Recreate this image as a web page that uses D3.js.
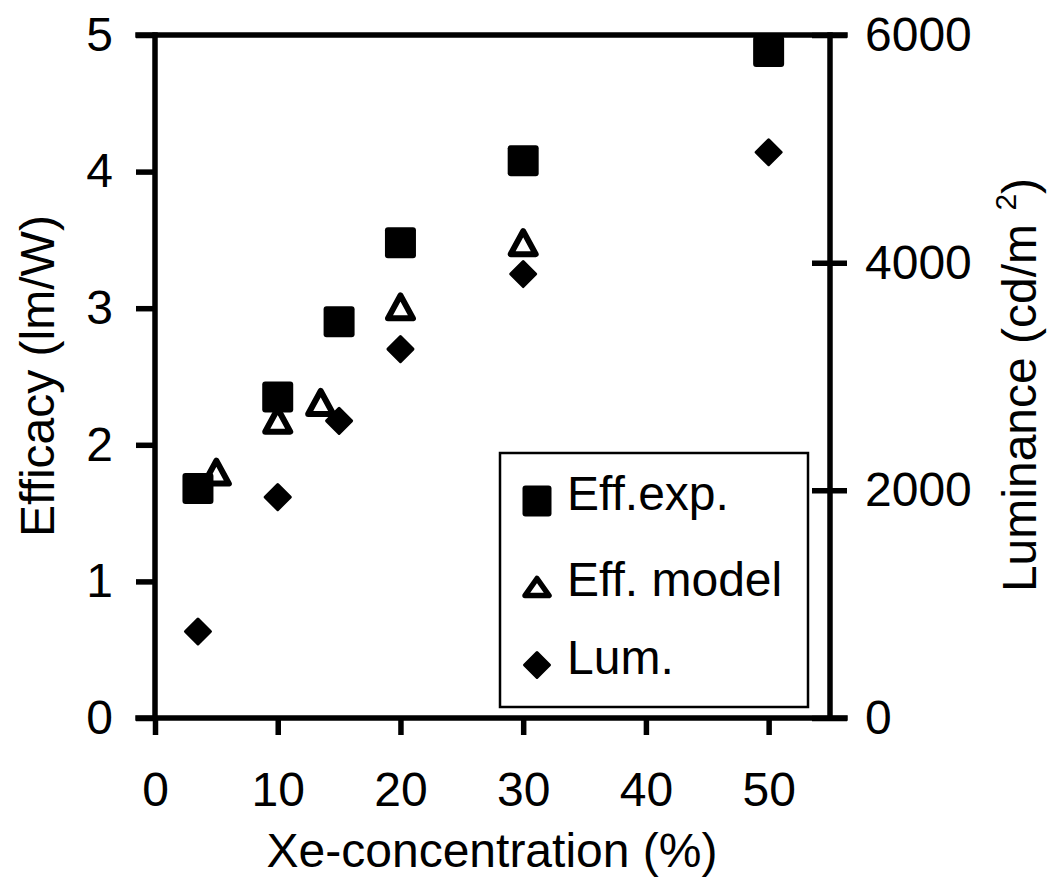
<!DOCTYPE html>
<html>
<head>
<meta charset="utf-8">
<script src="https://cdn.jsdelivr.net/npm/d3@7"></script>
<style>
body { margin: 0; background: #fff; }
svg text { font-family: "Liberation Sans", Arial, sans-serif; fill: #000; }
</style>
</head>
<body>
<div id="chart"></div>
<script>
"use strict";

// Xe concentration (%) and values
var expConc   = [3.5, 10, 15, 20, 30, 50];
var expEff    = [1.68, 2.35, 2.90, 3.48, 4.08, 4.88];   // lm/W
var modelConc = [5, 10, 13.5, 20, 30];
var modelEff  = [1.80, 2.18, 2.31, 3.01, 3.48];         // lm/W
var lumConc   = [3.5, 10, 15, 20, 30, 50];
var lumVal    = [760, 1940, 2610, 3240, 3900, 4970];    // cd/m2

var xTicks   = [0, 10, 20, 30, 40, 50];
var effTicks = [0, 1, 2, 3, 4, 5];
var lumTicks = [0, 2000, 4000, 6000];
var legendLabels = ["Eff.exp.", "Eff. model", "Lum."];

var width = 1049, height = 881;
var fontSize = 48;
var axisWidth = 5.5;
var fontFamily = "Liberation Sans, Arial, sans-serif";

var svg = d3.select("#chart")
    .append("svg")
    .attr("width", width)
    .attr("height", height);

var xScale = d3.scaleLinear().domain([0, 55]).range([155, 830]);
var yEff   = d3.scaleLinear().domain([0, 5]).range([718, 35]);
var yLum   = d3.scaleLinear().domain([0, 6000]).range([718, 35]);

function trianglePath(w, h)
{
    return "M0," + (-h / 2) + "L" + (w / 2) + "," + (h / 2) + "L" + (-w / 2) + "," + (h / 2) + "Z";
}

function diamondPath(r)
{
    return "M0," + (-r) + "L" + r + ",0L0," + r + "L" + (-r) + ",0Z";
}

function zip(xs, ys)
{
    return xs.map(function(x, i){ return {x: x, y: ys[i]}; });
}

// axes
var gx = svg.append("g")
    .attr("transform", "translate(0," + yEff(0) + ")")
    .call(d3.axisBottom(xScale).tickValues(xTicks).tickFormat(d3.format("d"))
        .tickSize(17).tickPadding(37));

var gl = svg.append("g")
    .attr("transform", "translate(" + xScale(0) + ",0)")
    .call(d3.axisLeft(yEff).tickValues(effTicks).tickFormat(d3.format("d"))
        .tickSize(19).tickPadding(23));

var gr = svg.append("g")
    .attr("transform", "translate(" + xScale(55) + ",0)")
    .call(d3.axisRight(yLum).tickValues(lumTicks).tickFormat(d3.format("d"))
        .tickSize(17).tickPadding(18));

// luminance ticks cross the axis
gr.selectAll(".tick line").attr("x1", -18);

[gx, gl, gr].forEach(function(g){
    g.attr("font-size", fontSize).attr("font-family", fontFamily);
    g.select(".domain").remove();
    g.selectAll(".tick line")
        .attr("stroke", "#000")
        .attr("stroke-width", axisWidth);
    g.selectAll(".tick text").attr("fill", "#000");
});

// frame
var frame = svg.append("g")
    .attr("stroke", "#000")
    .attr("stroke-width", axisWidth)
    .attr("stroke-linecap", "square");

frame.append("line")
    .attr("x1", xScale(0) - 17).attr("x2", xScale(55) + 15)
    .attr("y1", yEff(5)).attr("y2", yEff(5));
frame.append("line")
    .attr("x1", xScale(0) - 17).attr("x2", xScale(55) + 15)
    .attr("y1", yEff(0)).attr("y2", yEff(0));
frame.append("line")
    .attr("x1", xScale(0)).attr("x2", xScale(0))
    .attr("y1", yEff(5)).attr("y2", yEff(0));
frame.append("line")
    .attr("x1", xScale(55)).attr("x2", xScale(55))
    .attr("y1", yEff(5)).attr("y2", yEff(0));

// model triangles
svg.selectAll(".model")
    .data(zip(modelConc, modelEff))
    .enter()
    .append("path")
    .attr("class", "model")
    .attr("d", trianglePath(25, 23))
    .attr("transform", function(d){ return "translate(" + xScale(d.x) + "," + yEff(d.y) + ")"; })
    .attr("fill", "#fff")
    .attr("stroke", "#000")
    .attr("stroke-width", 6)
    .attr("stroke-linejoin", "round");

// luminance diamonds
svg.selectAll(".lum")
    .data(zip(lumConc, lumVal))
    .enter()
    .append("path")
    .attr("class", "lum")
    .attr("d", diamondPath(12.5))
    .attr("transform", function(d){ return "translate(" + xScale(d.x) + "," + yLum(d.y) + ")"; })
    .attr("fill", "#000")
    .attr("stroke", "#000")
    .attr("stroke-width", 3)
    .attr("stroke-linejoin", "round");

// experimental squares
var sq = 31;
svg.selectAll(".exp")
    .data(zip(expConc, expEff))
    .enter()
    .append("rect")
    .attr("class", "exp")
    .attr("x", function(d){ return xScale(d.x) - sq / 2; })
    .attr("y", function(d){ return yEff(d.y) - sq / 2; })
    .attr("width", sq)
    .attr("height", sq)
    .attr("rx", 3)
    .attr("fill", "#000");

// legend
var legend = svg.append("g").attr("transform", "translate(500,453)");

legend.append("rect")
    .attr("width", 308)
    .attr("height", 254)
    .attr("fill", "#fff")
    .attr("stroke", "#000")
    .attr("stroke-width", 2.5);

var rowY = [48, 134, 212];
var rows = legend.selectAll(".row")
    .data(legendLabels)
    .enter()
    .append("g")
    .attr("class", "row")
    .attr("transform", function(d, i){ return "translate(37," + rowY[i] + ")"; });

rows.each(function(d, i){
    var g = d3.select(this);
    if (i == 0)
    {
        g.append("rect")
            .attr("x", -14.5).attr("y", -15.5)
            .attr("width", 29).attr("height", 31)
            .attr("rx", 3)
            .attr("fill", "#000");
    }
    if (i == 1)
    {
        g.append("path")
            .attr("d", trianglePath(24, 17))
            .attr("fill", "#fff")
            .attr("stroke", "#000")
            .attr("stroke-width", 5.5)
            .attr("stroke-linejoin", "round");
    }
    if (i == 2)
    {
        g.append("path")
            .attr("d", diamondPath(12.5))
            .attr("fill", "#000")
            .attr("stroke", "#000")
            .attr("stroke-width", 3)
            .attr("stroke-linejoin", "round");
    }
    g.append("text")
        .attr("x", 30)
        .attr("y", 9)
        .attr("font-size", fontSize)
        .text(d);
});

// axis titles
svg.append("text")
    .attr("x", 492)
    .attr("y", 867)
    .attr("text-anchor", "middle")
    .attr("font-size", fontSize)
    .text("Xe-concentration (%)");

svg.append("text")
    .attr("transform", "translate(54,376) rotate(-90)")
    .attr("text-anchor", "middle")
    .attr("font-size", fontSize)
    .text("Efficacy (lm/W)");

var rt = svg.append("text")
    .attr("transform", "translate(1036,385) rotate(-90)")
    .attr("text-anchor", "middle")
    .attr("font-size", fontSize);
rt.append("tspan").text("Luminance (cd/m ");
rt.append("tspan").attr("font-size", 30).attr("dy", -20).text("2");
rt.append("tspan").attr("dy", 20).text(")");
</script>
</body>
</html>
